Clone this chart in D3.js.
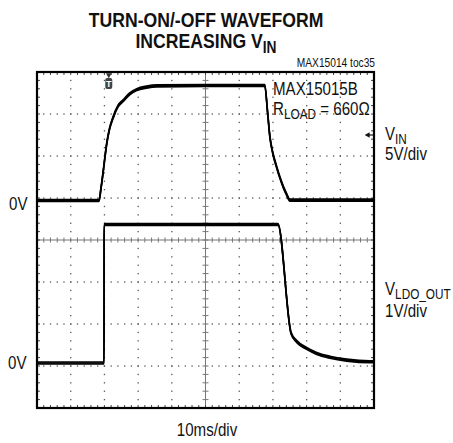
<!DOCTYPE html>
<html>
<head>
<meta charset="utf-8">
<script src="https://cdn.jsdelivr.net/npm/d3@7"></script>
<style>
  html, body { margin: 0; padding: 0; background: #fff; }
  svg { display: block; }
  text { font-family: "Liberation Sans Narrow", "Arial Narrow", "Liberation Sans", Arial, sans-serif; fill: #111; }
</style>
</head>
<body>
<div id="chart"></div>
<script>
// time in ms (10 ms/div, 10 divisions)
var vinTime = [0, 18.4, 19.0, 19.6, 20.2, 20.7, 21.5, 22.6, 24.0, 25.6, 27.5, 29.6, 32.5, 35.6, 50, 67.6,
  68.4, 69.1, 70.0, 71.1, 72.1, 73.1, 74.0, 75.0, 100];
var vinVolts = [0, 0, 1.5, 3.3, 5.3, 6.8, 8.5, 9.9, 11.2, 11.9, 12.7, 13.2, 13.5, 13.65, 13.7, 13.7,
  10.6, 7.6, 5.6, 4.0, 2.7, 1.6, 0.8, 0.05, 0.05];

var ldoTime = [0, 19.9, 19.95, 71.5, 75.4, 77.1, 80.0, 83.0, 86.9, 91.9, 98.8, 100];
var ldoVolts = [0, 0, 3.3, 3.3, 0.71, 0.51, 0.35, 0.23, 0.14, 0.07, 0.03, 0.03];

// channel settings: volts per division and ground position (divisions above bottom)
var vinScale = 5, vinGroundDiv = 4.94;
var ldoScale = 1, ldoGroundDiv = 1.07;
var triggerTime = 21.3, triggerLevel = 7.8;

var xDivs = 10, yDivs = 8, minor = 5;

var W = 453, H = 443;
var frame = { left: 37, right: 374, top: 72, bottom: 408 };
var narrow = 0.84; // the original uses a condensed face

var svg = d3.select("#chart").append("svg").attr("width", W).attr("height", H);

var x = d3.scaleLinear().domain([0, 100]).range([frame.left, frame.right]);
var xDiv = d3.scaleLinear().domain([0, xDivs]).range([frame.left, frame.right]);
var yDiv = d3.scaleLinear().domain([0, yDivs]).range([frame.bottom, frame.top]);

function chanY(scale, groundDiv) {
  return function (v) { return yDiv(groundDiv + v / scale); };
}
var yVin = chanY(vinScale, vinGroundDiv);
var yLdo = chanY(ldoScale, ldoGroundDiv);

// dotted grid
var grid = svg.append("g").attr("fill", "#555");
d3.range(1, xDivs).forEach(function (k) {
  if (k === xDivs / 2) return;
  d3.range(1, yDivs * minor).forEach(function (m) {
    grid.append("rect").attr("x", xDiv(k) - 0.6).attr("y", yDiv(m / minor) - 0.6).attr("width", 1.3).attr("height", 1.3);
  });
});
d3.range(1, yDivs).forEach(function (k) {
  if (k === yDivs / 2) return;
  d3.range(1, xDivs * minor).forEach(function (m) {
    grid.append("rect").attr("x", xDiv(m / minor) - 0.6).attr("y", yDiv(k) - 0.6).attr("width", 1.3).attr("height", 1.3);
  });
});

// center crosshair with minor ticks
var cx = xDiv(xDivs / 2), cy = yDiv(yDivs / 2);
var axes = svg.append("g").attr("stroke", "#777").attr("stroke-width", 1);
axes.append("line").attr("x1", frame.left).attr("x2", frame.right).attr("y1", cy).attr("y2", cy);
axes.append("line").attr("x1", cx).attr("x2", cx).attr("y1", frame.top).attr("y2", frame.bottom);
d3.range(1, xDivs * minor).forEach(function (m) {
  axes.append("line").attr("x1", xDiv(m / minor)).attr("x2", xDiv(m / minor)).attr("y1", cy - 2.5).attr("y2", cy + 2.5);
});
d3.range(1, yDivs * minor).forEach(function (m) {
  axes.append("line").attr("x1", cx - 3).attr("x2", cx + 3).attr("y1", yDiv(m / minor)).attr("y2", yDiv(m / minor));
});

// edge ticks
var edge = svg.append("g").attr("stroke", "#444").attr("stroke-width", 1);
d3.range(1, xDivs * minor).forEach(function (m) {
  var px = xDiv(m / minor);
  edge.append("line").attr("x1", px).attr("x2", px).attr("y1", frame.top).attr("y2", frame.top + 3);
  edge.append("line").attr("x1", px).attr("x2", px).attr("y1", frame.bottom).attr("y2", frame.bottom - 3);
});
d3.range(1, yDivs * minor).forEach(function (m) {
  var py = yDiv(m / minor);
  edge.append("line").attr("x1", frame.left).attr("x2", frame.left + 3).attr("y1", py).attr("y2", py);
  edge.append("line").attr("x1", frame.right).attr("x2", frame.right - 3).attr("y1", py).attr("y2", py);
});

// traces: drawn three times with small vertical offset so flat parts look thick and noisy
function drawTrace(times, volts, yFn) {
  var pts = times.map(function (t, i) { return [t, volts[i]]; });
  var line = d3.line().x(function (d) { return x(d[0]); }).y(function (d) { return yFn(d[1]); }).curve(d3.curveMonotoneX);
  [-1, 0, 1].forEach(function (dy) {
    svg.append("path").attr("d", line(pts)).attr("transform", "translate(0," + dy + ")")
      .attr("fill", "none").attr("stroke", "#000").attr("stroke-width", 1.6);
  });
}
drawTrace(vinTime, vinVolts, yVin);
drawTrace(ldoTime, ldoVolts, yLdo);

// frame
svg.append("rect").attr("x", frame.left).attr("y", frame.top)
  .attr("width", frame.right - frame.left).attr("height", frame.bottom - frame.top)
  .attr("fill", "none").attr("stroke", "#000").attr("stroke-width", 2.2);

// trigger position marker
var tx = x(triggerTime);
svg.append("path").attr("d", d3.symbol().type(d3.symbolTriangle).size(14)())
  .attr("transform", "translate(" + tx + "," + (frame.top + 3) + ") rotate(180)").attr("fill", "#333");
svg.append("rect").attr("x", tx - 3.5).attr("y", frame.top + 6).attr("width", 7).attr("height", 11).attr("rx", 2)
  .attr("fill", "#444");
svg.append("text").attr("x", tx).attr("y", frame.top + 15).attr("text-anchor", "middle")
  .style("font-size", "9px").style("font-weight", "bold").style("fill", "#fff").text("T");

// trigger level marker
var ty = yVin(triggerLevel);
svg.append("path").attr("d", d3.symbol().type(d3.symbolTriangle).size(14)())
  .attr("transform", "translate(" + (frame.right - 6) + "," + ty + ") rotate(-90)").attr("fill", "#111");
svg.append("line").attr("x1", frame.right - 6).attr("x2", frame.right).attr("y1", ty).attr("y2", ty)
  .attr("stroke", "#111").attr("stroke-width", 1.2);

// condensed text helper
function label(px, py, size, opts) {
  opts = opts || {};
  var g = svg.append("g").attr("transform", "translate(" + px + "," + py + ") scale(" + (opts.sx || narrow) + ",1)");
  var t = g.append("text").attr("text-anchor", opts.anchor || "start")
    .style("font-size", size + "px").style("font-weight", opts.weight || "normal");
  if (opts.sub) {
    t.append("tspan").text(opts.main);
    t.append("tspan").attr("dy", size * 0.22).style("font-size", (size * 0.78) + "px").text(opts.sub);
    if (opts.tail) t.append("tspan").attr("dy", -size * 0.22).text(opts.tail);
  } else {
    t.text(opts.main);
  }
  return t;
}

label(206, 27, 21, { main: "TURN-ON/-OFF WAVEFORM", anchor: "middle", weight: "bold" });
label(206, 48, 21, { main: "INCREASING V", sub: "IN", anchor: "middle", weight: "bold" });
label(375, 66.5, 12, { main: "MAX15014 toc35", anchor: "end", sx: 0.85 });

label(273, 95, 18, { main: "MAX15015B" });
label(273, 115, 18, { main: "R", sub: "LOAD", tail: " = 660Ω" });

label(385, 140, 18, { main: "V", sub: "IN" });
label(385, 160, 18, { main: "5V/div" });
label(385, 295, 18, { main: "V", sub: "LDO_OUT" });
label(385, 317, 18, { main: "1V/div" });

label(9, yVin(0) + 9, 18, { main: "0V" });
label(8, yLdo(0) + 6, 18, { main: "0V" });

label(207, 436, 18, { main: "10ms/div", anchor: "middle" });
</script>
</body>
</html>
